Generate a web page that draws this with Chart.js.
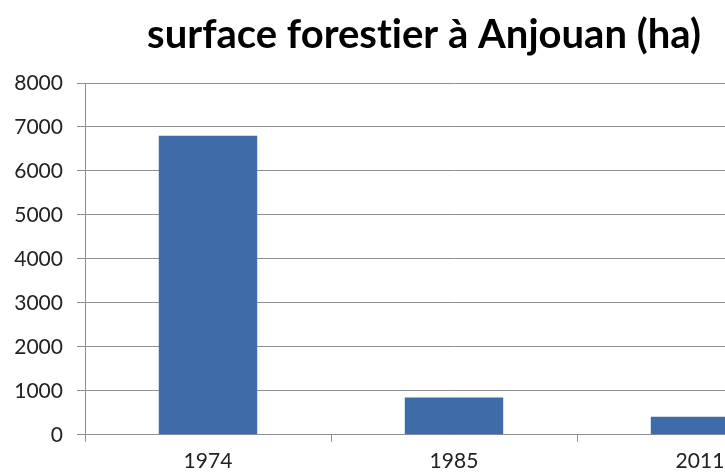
<!DOCTYPE html>
<html>
<head>
<meta charset="utf-8">
<script src="https://cdn.jsdelivr.net/npm/chart.js@4"></script>
<style>
  html, body { margin: 0; padding: 0; background: #fff; overflow: hidden; }
  #forestChart { display: block; }
</style>
</head>
<body>
<canvas id="forestChart" width="848" height="481"></canvas>
<script>
const years = ['1974', '1985', '2011'];
const surfaceHa = [6800, 850, 410];
const yTicks = [0, 1000, 2000, 3000, 4000, 5000, 6000, 7000, 8000];

const gridGray = '#8f8f8f';
const labelFont = { family: 'Lato, "Open Sans", sans-serif', size: 21 };

// plain glyphs (no "ti" ligature), title centred on the full canvas width
const titleTweaks = {
  id: 'titleTweaks',
  afterLayout(chart) {
    if (chart.titleBlock) {
      chart.titleBlock.left = 0;
      chart.titleBlock.right = chart.width;
    }
  },
  beforeDraw(chart) {
    chart.ctx.textRendering = 'optimizeSpeed';
    chart.ctx.letterSpacing = '0.01px';
  }
};

const ctx = document.getElementById('forestChart').getContext('2d');

const forestChart = new Chart(ctx, {
  type: 'bar',
  data: {
    labels: years,
    datasets: [{
      label: 'surface forestier',
      data: surfaceHa,
      backgroundColor: '#3d6ca8',
      borderWidth: 0,
      categoryPercentage: 1,
      barPercentage: 0.4
    }]
  },
  plugins: [titleTweaks],
  options: {
    responsive: false,
    animation: false,
    layout: { padding: { left: 0, right: 25, top: 0, bottom: 0 } },
    plugins: {
      legend: { display: false },
      tooltip: { enabled: false },
      title: {
        display: true,
        text: 'surface forestier à Anjouan (ha)',
        color: '#000',
        font: { family: 'Lato, "Open Sans", sans-serif', size: 40, weight: 'bold' },
        padding: { top: 11, bottom: 24 }
      }
    },
    scales: {
      x: {
        offset: true,
        grid: {
          offset: true,
          drawOnChartArea: false,
          drawTicks: true,
          tickLength: 7,
          color: gridGray
        },
        border: { color: gridGray, width: 1 },
        ticks: { color: '#222', font: labelFont, padding: 7 }
      },
      y: {
        min: 0,
        max: 8000,
        afterFit: (scale) => { scale.width = 85; },
        afterBuildTicks: (scale) => { scale.ticks = yTicks.map(v => ({ value: v })); },
        grid: { color: gridGray, tickLength: 8 },
        border: { color: gridGray, width: 1 },
        ticks: {
          color: '#222',
          font: labelFont,
          padding: 14,
          callback: (value) => String(value)
        }
      }
    }
  }
});
</script>
</body>
</html>
